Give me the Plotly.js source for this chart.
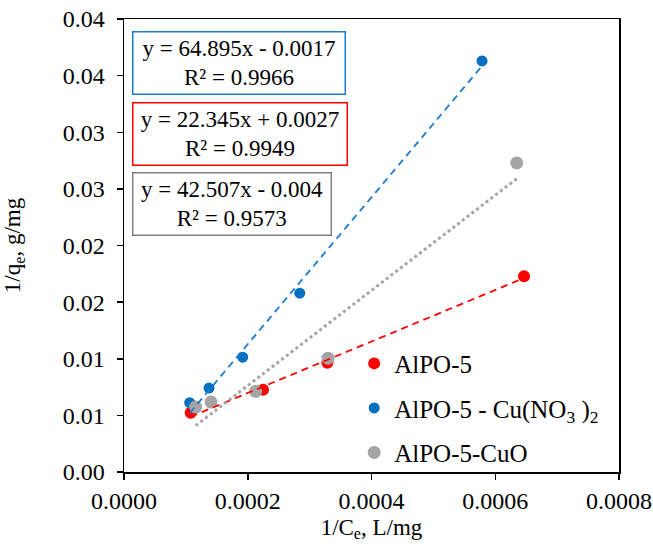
<!DOCTYPE html>
<html>
<head>
<meta charset="utf-8">
<script src="https://cdn.plot.ly/plotly-3.0.1.min.js"></script>
<style>html,body{margin:0;padding:0;background:#fff;}#chart{width:653px;height:547px;}</style>
</head>
<body>
<div id="chart"></div>
<script>
// Series data
const xAlpo = [0.0001078, 0.0002247, 0.0003287, 0.0006465];
const yAlpo = [0.00524, 0.00727, 0.00965, 0.01729];

const xCuNO3 = [0.0001062, 0.0001374, 0.0001918, 0.0002840, 0.0005786];
const yCuNO3 = [0.00612, 0.00741, 0.01014, 0.01579, 0.03630];

const xCuO = [0.0001159, 0.0001406, 0.0002128, 0.0003297, 0.0006347];
const yCuO = [0.00573, 0.00617, 0.00712, 0.01005, 0.02729];

const seriesNames = ["AlPO-5", "AlPO-5 - Cu(NO<sub>3</sub> )<sub>2</sub>", "AlPO-5-CuO"];
const equationTexts = [
  "y = 64.895x - 0.0017<br>R² = 0.9966",
  "y = 22.345x + 0.0027<br>R² = 0.9949",
  "y = 42.507x - 0.004<br>R² = 0.9573"
];
const xTickVals = [0, 0.0002, 0.0004, 0.0006, 0.0008];
const yTickVals = [0, 0.005, 0.01, 0.015, 0.02, 0.025, 0.03, 0.035, 0.04];

// least-squares trendline (as the spreadsheet does) between the series' min and max x
function trend(xs, ys) {
  const n = xs.length;
  const mx = xs.reduce((a, b) => a + b, 0) / n;
  const my = ys.reduce((a, b) => a + b, 0) / n;
  let sxy = 0, sxx = 0;
  for (let i = 0; i < n; i++) { sxy += (xs[i] - mx) * (ys[i] - my); sxx += (xs[i] - mx) ** 2; }
  const m = sxy / sxx, b = my - m * mx;
  const x0 = Math.min(...xs), x1 = Math.max(...xs);
  return { x: [x0, x1], y: [m * x0 + b, m * x1 + b] };
}

const RED = "#FF0000", BLUE = "#0070C0", GRAY = "#A5A5A5";
const FONT = "Liberation Serif, Times New Roman, serif";

const tA = trend(xAlpo, yAlpo), tB = trend(xCuNO3, yCuNO3), tC = trend(xCuO, yCuO);

const data = [
  { x: xAlpo, y: yAlpo, mode: "markers", type: "scatter", name: seriesNames[0], legendgroup: "a",
    marker: { color: RED, size: 12 } },
  { x: xCuNO3, y: yCuNO3, mode: "markers", type: "scatter", name: seriesNames[1], legendgroup: "b",
    marker: { color: BLUE, size: 11 } },
  { x: xCuO, y: yCuO, mode: "markers", type: "scatter", name: seriesNames[2], legendgroup: "c",
    marker: { color: GRAY, size: 13 } },
  { x: tA.x, y: tA.y, mode: "lines", type: "scatter", showlegend: false, hoverinfo: "skip",
    line: { color: RED, width: 1.8, dash: "7px,5px" } },
  { x: tB.x, y: tB.y, mode: "lines", type: "scatter", showlegend: false, hoverinfo: "skip",
    line: { color: "#1A7BD0", width: 1.8, dash: "7px,5px" } },
  { x: tC.x, y: tC.y, mode: "lines", type: "scatter", showlegend: false, hoverinfo: "skip",
    line: { color: GRAY, width: 3, dash: "dot" } }
];

function box(text, yTop, color, w) {
  return { text: text, xref: "paper", yref: "paper", x: 0.016, y: yTop, xanchor: "left", yanchor: "top",
    showarrow: false, align: "center", width: w, bordercolor: color, borderwidth: 1.5, borderpad: 3,
    bgcolor: "#fff", font: { family: FONT, size: 23, color: "#000" } };
}

const layout = {
  width: 653, height: 547,
  margin: { l: 124, r: 34, t: 19, b: 75 },
  paper_bgcolor: "#fff", plot_bgcolor: "#fff",
  font: { family: FONT, size: 23, color: "#000" },
  showlegend: true,
  legend: { x: 0.465, y: 0.29, xanchor: "left", yanchor: "top", bgcolor: "rgba(0,0,0,0)",
    traceorder: "grouped", tracegroupgap: 9, itemsizing: "trace",
    font: { family: FONT, size: 25, color: "#000" } },
  xaxis: {
    range: [0, 0.0008], tickvals: xTickVals, ticktext: xTickVals.map(v => v.toFixed(4)),
    showgrid: false, zeroline: false, showline: true, linecolor: "#000", linewidth: 1.5, mirror: true,
    ticks: "outside", ticklen: 6, tickwidth: 1.5, tickcolor: "#000", ticklabelstandoff: 1,
    tickfont: { family: FONT, size: 24 },
    title: { text: "1/C<sub>e</sub>, L/mg", font: { family: FONT, size: 23 }, standoff: 5 }
  },
  yaxis: {
    range: [0, 0.04], tickvals: yTickVals, ticktext: yTickVals.map(v => (Math.round(v * 100 + 1e-9) / 100).toFixed(2)),
    showgrid: false, zeroline: false, showline: true, linecolor: "#000", linewidth: 1.5, mirror: true,
    ticks: "outside", ticklen: 6, tickwidth: 1.5, tickcolor: "#000", ticklabelstandoff: 7,
    tickfont: { family: FONT, size: 24 },
    title: { text: "1/q<sub>e</sub>, g/mg", font: { family: FONT, size: 23 }, standoff: 35 }
  },
  annotations: [
    box(equationTexts[0], 0.974, "#1A7BD0", 205),
    box(equationTexts[1], 0.816, RED, 207),
    box(equationTexts[2], 0.662, "#808080", 191)
  ]
};

Plotly.newPlot("chart", data, layout, { staticPlot: true, displayModeBar: false });
</script>
</body>
</html>
